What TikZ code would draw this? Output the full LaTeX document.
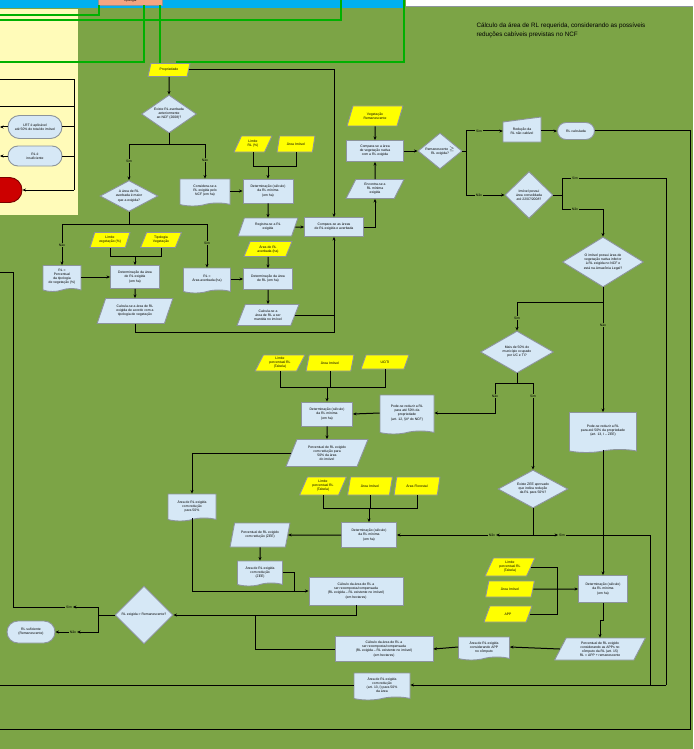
\documentclass[tikz,border=0pt]{standalone}
\usepackage{fontspec}
\setmainfont{Liberation Sans}
\usetikzlibrary{shapes.geometric,shapes.misc,shapes.symbols,arrows.meta}

\definecolor{bggreen}{RGB}{124,164,70}
\definecolor{panelyellow}{RGB}{255,251,185}
\definecolor{topblue}{RGB}{0,176,240}
\definecolor{nodefill}{RGB}{214,232,246}
\definecolor{nodeline}{RGB}{140,148,155}
\definecolor{inyellow}{RGB}{255,255,0}
\definecolor{linkgreen}{RGB}{0,176,0}
\definecolor{stopred}{RGB}{204,0,0}
\definecolor{topsalmon}{RGB}{244,165,130}

\tikzset{
  base/.style={draw=nodeline, line width=0.9pt, fill=nodefill, align=center,
    inner sep=0pt, font=\fontsize{3.4}{4.1}\selectfont},
  proc/.style={base, rectangle},
  para/.style={base, trapezium, trapezium left angle=65, trapezium right angle=115,
    trapezium stretches=true},
  inbox/.style={para, fill=inyellow},
  docu/.style={base, tape, tape bend top=none, tape bend height=3pt},
  deci/.style={base, diamond},
  term/.style={base, rounded rectangle},
  lbl/.style={fill=bggreen, inner sep=0.8pt, font=\fontsize{3.4}{4}\selectfont},
  conn/.style={line width=1pt, black},
  arr/.style={conn, -{Stealth[length=3.5pt,width=3pt]}},
  glink/.style={line width=1.2pt, linkgreen},
}

\begin{document}
\begin{tikzpicture}[x=1pt,y=-1pt]
\useasboundingbox (0,0) rectangle (693,749);
\clip (0,0) rectangle (693,749);
\fill[bggreen] (0,0) rectangle (693,749);
\fill[topblue] (0,0) rectangle (405,8);
\fill[white] (406,0) rectangle (693,6);
\draw[nodeline, line width=0.8pt] (406,6.5) -- (693,6.5);
\fill[panelyellow] (0,9) rectangle (78,215);

\node[anchor=north west, align=left, font=\fontsize{6.3}{9}\selectfont] (title) at (473,19)
  {Cálculo da área de RL requerida, considerando as possíveis\\reduções cabíveis previstas no NCF};

% entradas e passos
\node[inbox, minimum width=42, minimum height=13] (prop) at (169,70) {Propriedade};
\node[deci, aspect=1.45, minimum width=55, minimum height=38] (d1) at (169,114) {Existe RL averbada\\anteriormente\\ao NCF (2008)?};
\node[deci, aspect=1.9, minimum width=58, minimum height=31] (d2) at (129,196) {A área de RL\\averbada é maior\\que a exigida?};
\node[docu, minimum width=50, minimum height=27] (doc1) at (205,191) {Considera-se a\\RL exigida pelo\\NCF (em ha)};
\node[inbox, minimum width=38, minimum height=16] (y1) at (253,144) {Limite\\RL (\%)};
\node[inbox, minimum width=38, minimum height=16] (y2) at (296,144) {Área Imóvel};
\node[proc, minimum width=50, minimum height=24] (b1) at (268,191) {Determinação (cálculo)\\da RL mínima\\(em ha)};
\node[para, minimum width=60, minimum height=18] (p1) at (268,227) {Registra-se a RL\\exigida};
\node[inbox, minimum width=48, minimum height=15] (y3) at (268,249) {Área de RL\\averbada (ha)};
\node[proc, minimum width=49, minimum height=21] (b2) at (268,279) {Determinação da área\\de RL (em ha)};
\node[para, minimum width=62, minimum height=21] (p2) at (268,315) {Calcula-se a\\área de RL a ser\\mantida no imóvel};
\node[docu, minimum width=47, minimum height=25] (doc3) at (207,279) {RL =\\Área averbada (ha)};
\node[docu, minimum width=38, minimum height=26] (doc2) at (62,277) {RL =\\Percentual\\da tipologia\\de vegetação (\%)};
\node[inbox, minimum width=40, minimum height=15] (y4) at (110,240) {Limite\\vegetação (\%)};
\node[inbox, minimum width=41, minimum height=15] (y5) at (161,240) {Tipologia\\Vegetação};
\node[proc, minimum width=49, minimum height=23] (b3) at (135,277) {Determinação da área\\de RL exigida\\(em ha)};
\node[para, minimum width=76, minimum height=25] (p3) at (135,311) {Calcula-se a área de RL\\exigida de acordo com a\\tipologia de vegetação};
\node[proc, minimum width=59, minimum height=19] (cmp) at (334,227) {Compara-se as áreas\\de RL exigida e averbada};
\node[para, minimum width=58, minimum height=19] (p4) at (375,189) {Encontra-se a\\RL mínima\\exigida};
\node[proc, minimum width=57, minimum height=21] (b4) at (375,151) {Compara-se a área\\de vegetação nativa\\com a RL exigida};
\node[inbox, minimum width=56, minimum height=20] (y6) at (375,116) {Vegetação\\Remanescente};
\node[deci, aspect=1.2, minimum width=44, minimum height=36] (d3) at (440,151) {Remanescente $\geq$\\RL exigida?};
\filldraw[draw=nodeline, line width=0.9pt, fill=nodefill] (503,122) -- (541,117) -- (541,142) -- (503,142) -- cycle;
\node[font=\fontsize{3.4}{4.1}\selectfont, align=center, inner sep=0pt, minimum width=38, minimum height=20] (m1) at (522,131) {Redução da\\RL não cabível};
\node[term, minimum width=37, minimum height=17] (t1) at (576,131) {RL calculada};
\node[deci, aspect=1, minimum width=48, minimum height=47] (d4) at (529,195) {Imóvel possui\\área consolidada\\até 22/07/2008?};
\node[deci, aspect=1.6, minimum width=81, minimum height=50] (d5) at (603,262) {O imóvel possui área de\\vegetação nativa inferior\\à RL exigida no NCF e\\está na Amazônia Legal?};
\node[deci, aspect=1.75, minimum width=73, minimum height=42] (d6) at (517,352) {Mais de 50\% do\\município ocupado\\por UC e TI?};
\node[docu, minimum width=67, minimum height=40] (d7) at (603,431) {Pode-se reduzir a RL\\para até 50\% da propriedade\\(art. 13, I – ZEE)};
\node[deci, aspect=1.85, minimum width=70, minimum height=38] (d8) at (533,489) {Existe ZEE aprovado\\que indica redução\\da RL para 50\%?};
\node[docu, minimum width=54, minimum height=39] (d9) at (407,413) {Pode-se reduzir a RL\\para até 50\% da\\propriedade\\(art. 12, §4º do NCF)};
\node[inbox, minimum width=50, minimum height=16] (y7) at (280,363) {Limite\\percentual RL\\(Tabela)};
\node[inbox, minimum width=48, minimum height=16] (y8) at (330,363) {Área Imóvel};
\node[inbox, minimum width=48, minimum height=14] (y9) at (385,362) {UC/TI};
\node[proc, minimum width=51, minimum height=24] (b5) at (327,414) {Determinação (cálculo)\\da RL mínima\\(em ha)};
\node[para, minimum width=82, minimum height=27] (p5) at (327,453) {Percentual de RL exigido\\com redução para\\50\% da área\\do imóvel};
\node[docu, minimum width=48, minimum height=27] (d10) at (192,506) {Área de RL exigida\\com redução\\para 50\%};
\node[inbox, minimum width=47, minimum height=18] (y10) at (323,486) {Limite\\percentual RL\\(Tabela)};
\node[inbox, minimum width=45, minimum height=18] (y11) at (370,486) {Área Imóvel};
\node[inbox, minimum width=46, minimum height=18] (y12) at (417,486) {Área Florestal};
\node[proc, minimum width=55, minimum height=25] (b6) at (369,535) {Determinação (cálculo)\\da RL mínima\\(em ha)};
\node[para, minimum width=60, minimum height=24] (p6) at (260,535) {Percentual de RL exigido\\com redução (ZEE)};
\node[docu, minimum width=45, minimum height=25] (d11) at (260,572) {Área de RL exigida\\com redução\\(ZEE)};
\node[proc, minimum width=94, minimum height=28] (b7) at (356,591) {Cálculo da área de RL a\\ser recomposta/compensada\\(RL exigida – RL existente no imóvel)\\(em hectares)};
\node[deci, aspect=1, minimum width=58, minimum height=58] (d12) at (144,615) {RL exigida > Remanescente?};
\node[term, minimum width=48, minimum height=22] (t2) at (31,632) {RL suficiente\\(Remanescente)};
\node[inbox, minimum width=50, minimum height=18] (y13) at (510,567) {Limite\\percentual RL\\(Tabela)};
\node[inbox, minimum width=49, minimum height=16] (y14) at (510,589) {Área Imóvel};
\node[inbox, minimum width=48, minimum height=16] (y15) at (508,614) {APP};
\node[proc, minimum width=49, minimum height=27] (b8) at (603,589) {Determinação (cálculo)\\da RL mínima\\(em ha)};
\node[para, minimum width=91, minimum height=22] (p7) at (600,649) {Percentual de RL exigido\\considerando as APPs no\\cômputo da RL (art. 15)\\RL = APP + remanescente};
\node[docu, minimum width=51, minimum height=23] (d13) at (484,647) {Área de RL exigida\\considerando APP\\no cômputo};
\node[proc, minimum width=98, minimum height=25] (b9) at (384,649) {Cálculo da área de RL a\\ser recomposta/compensada\\(RL exigida – RL existente no imóvel)\\(em hectares)};
\node[docu, minimum width=56, minimum height=27] (d14) at (382,685) {Área de RL exigida\\com redução\\(art. 13, I) para 50\%\\da área};
\node[term, minimum width=54, minimum height=23] (lp1) at (35,127) {LRT é aplicável\\até 50\% do total do imóvel};
\node[term, minimum width=54, minimum height=20] (lp2) at (35,156) {RL é\\insuficiente};
\node[term, fill=stopred, draw=stopred!60!black, minimum width=44, minimum height=25] (stop) at (0,190) {};
\node[draw=nodeline, line width=0.9pt, fill=topsalmon, minimum width=64, minimum height=8,
  inner sep=0pt, font=\fontsize{3.2}{3.6}\selectfont] (top) at (130,1) {Tipologia};

% rótulos
\node[lbl] (s1) at (129,161) {Sim};
\node[lbl] (n1) at (205,160) {Não};
\node[lbl] (n2) at (62,245) {Não};
\node[lbl] (s2) at (207,243) {Sim};
\node[lbl] (s3) at (479,131) {Sim};
\node[lbl] (n3) at (479,195) {Não};
\node[lbl] (s4) at (575,178) {Sim};
\node[lbl] (n4) at (575,209) {Não};
\node[lbl] (s5) at (517,318) {Sim};
\node[lbl] (n5) at (603,325) {Não};
\node[lbl] (n6) at (495,396) {Não};
\node[lbl] (s6) at (533,396) {Sim};
\node[lbl] (n7) at (492,535) {Não};
\node[lbl] (s7) at (562,535) {Sim};
\node[lbl] (s8) at (69,607) {Sim};
\node[lbl] (n8) at (73,632) {Não};

% ligações verdes
\draw[glink] (0,15) -| (99,5);
\draw[glink] (0,20) -| (341,0);
\draw[glink] (0,62) -| (144,5);
\draw[glink] (160,5) -- (prop.north -| 160,0);
\draw[glink] (prop.north east |- 0,62) -| (404,0);

% conectores
\draw[arr] (prop.south) -- (d1.north);
\coordinate (j1) at (169,144);
\draw[conn] (d1.south) -- (j1) -| (s1.north);
\draw[arr] (s1.south) -- (d2.north);
\draw[conn] (j1) -| (n1.north);
\draw[arr] (n1.south) -- (doc1.north);
\draw[arr] (doc1.east) -- (b1.west);
\coordinate (j2) at (268,166);
\draw[conn] (y1.south) |- (j2);
\draw[conn] (y2.south) |- (j2);
\draw[arr] (j2) -- (b1.north);
\draw[arr] (b1.south) -- (p1.north);
\draw[arr] (p1.east) -- (cmp.west);
\draw[arr] (y3.south) -- (b2.north);
\draw[arr] (doc3.east) -- (b2.west);
\draw[arr] (b2.south) -- (p2.north);
\coordinate (j12) at (129,224);
\draw[conn] (d2.south) -- (j12) -| (n2.north);
\draw[arr] (n2.south) -- (doc2.north);
\draw[conn] (j12) -| (s2.north);
\draw[arr] (s2.south) -- (doc3.north);
\draw[arr] (doc2.east) -- (b3.west);
\coordinate (j4) at (135,256);
\draw[conn] (y4.south) |- (j4);
\draw[conn] (y5.south) |- (j4);
\draw[arr] (j4) -- (b3.north);
\draw[arr] (b3.south) -- (p3.north);
\draw[arr] (prop.east) -| (cmp.north);
\draw[conn] (p2.east) -- (p2.east -| cmp.south);
\draw[arr] (p3.south) |- (cmp.south |- 0,332) -- (cmp.south);
\draw[arr] (cmp.east) -| (p4.south);
\draw[arr] (p4.north) -- (b4.south);
\draw[arr] (y6.south) -- (b4.north);
\draw[arr] (b4.east) -- (d3.west);
\coordinate (j3) at (466,151);
\draw[conn] (d3.east) -- (j3);
\draw[conn] (j3) |- (s3.west);
\draw[arr] (s3.east) -- (m1.west);
\draw[conn] (j3) |- (n3.west);
\draw[arr] (n3.east) -- (d4.west);
\draw[arr] (m1.east) -- (t1.west);
\draw[conn] (t1.east) -| (690,729) -- (0,729);
\coordinate (j5) at (562,195);
\draw[conn] (d4.east) -- (j5);
\draw[conn] (j5) |- (s4.west);
\draw[conn] (j5) |- (n4.west);
\draw[arr] (n4.east) -| (d5.north);
\draw[conn] (s4.east) -| (666,685);
\coordinate (j6) at (603,302);
\draw[conn] (d5.south) -- (j6) -| (s5.north);
\draw[arr] (s5.south) -- (d6.north);
\draw[conn] (j6) -- (n5.north);
\draw[arr] (n5.south) -- (d7.north);
\draw[arr] (d7.south) -- (b8.north);
\coordinate (j7) at (517,383);
\draw[conn] (d6.south) -- (j7);
\draw[conn] (j7) -| (n6.north);
\draw[arr] (n6.south) |- (d9.east);
\draw[conn] (j7) -| (s6.north);
\draw[arr] (s6.south) -- (d8.north);
\draw[arr] (d9.west) -- (b5.east);
\coordinate (j8) at (327,387);
\draw[conn] (y7.south) |- (j8);
\draw[conn] (y9.south) |- (j8);
\draw[conn] (y8.south) -- (y8.south |- j8);
\draw[arr] (j8) -- (b5.north);
\draw[arr] (b5.south) -- (p5.north);
\draw[arr] (p5.west) -| (d10.north);
\draw[arr] (d10.south) |- (b7.west);
\draw[arr] (d8.south) |- (n7.east);
\draw[arr] (n7.west) -- (b6.east);
\draw[arr] (d8.south) |- (s7.west);
\draw[conn] (s7.east) -| (650,685);
\coordinate (j9) at (369,508);
\draw[conn] (y10.south) |- (j9);
\draw[conn] (y12.south) |- (j9);
\draw[conn] (y11.south) -- (y11.south |- j9);
\draw[arr] (j9) -- (b6.north);
\draw[arr] (b6.west) -- (p6.east);
\draw[arr] (p6.south) -- (d11.north);
\draw[conn] (d11.east) -| (294,591);
\draw[arr] (b7.south) |- (d12.east);
\draw[conn] (b9.west) -| (255,615);
\coordinate (j10) at (98,615);
\draw[conn] (d12.west) -- (j10);
\draw[arr] (j10) |- (s8.east);
\draw[conn] (s8.west) -| (13,272) -- (0,272);
\draw[arr] (j10) |- (n8.east);
\draw[arr] (n8.west) -- (t2.east);
\coordinate (j13) at (557,589);
\draw[conn] (y13.east) -| (j13);
\draw[conn] (y15.east) -| (j13);
\draw[arr] (y14.east) -- (b8.west);
\draw[arr] (b8.south) -- ++(0,18) -| (p7.north);
\draw[arr] (p7.west) -- (d13.east);
\draw[arr] (d13.west) -- (b9.east);
\draw[arr] (666,685) -- (d14.east);
\draw[conn] (d14.west) -- (d14.west -| 0,0);
\draw[conn] (0,80) -| (74,190);
\draw[arr] (74,190) -- (stop.east);
\draw[conn] (0,107) -- (74,107);
\draw[conn] (lp1.east) -- (lp1.east -| 74,0);
\draw[conn] (lp2.east) -- (lp2.east -| 74,0);
\draw[arr] (lp1.west) -- (lp1.west -| 0,0);
\draw[arr] (lp2.west) -- (lp2.west -| 0,0);
\end{tikzpicture}
\end{document}
